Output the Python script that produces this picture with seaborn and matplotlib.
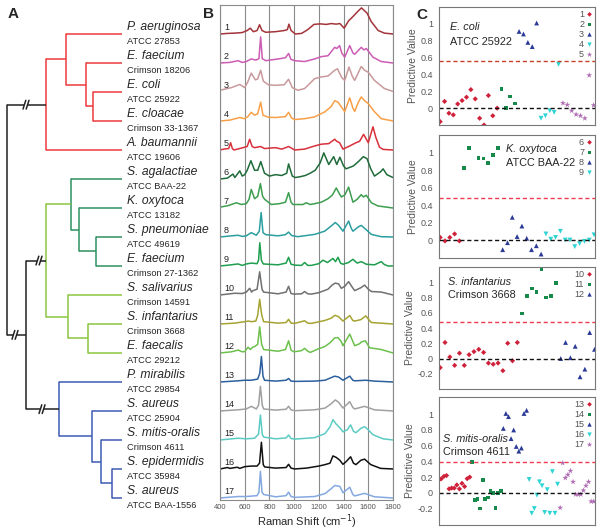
import numpy as np
import pandas as pd
import seaborn as sns
import matplotlib.pyplot as plt

sns.set_style("white")
plt.rcParams['font.family'] = ['Liberation Sans', 'DejaVu Sans']

# ---- panel A: leaves and tree ----
species = ["P. aeruginosa", "E. faecium", "E. coli", "E. cloacae", "A. baumannii",
           "S. agalactiae", "K. oxytoca", "S. pneumoniae", "E. faecium", "S. salivarius",
           "S. infantarius", "E. faecalis", "P. mirabilis", "S. aureus", "S. mitis-oralis",
           "S. epidermidis", "S. aureus"]
strains = ["ATCC 27853", "Crimson 18206", "ATCC 25922", "Crimson 33-1367", "ATCC 19606",
           "ATCC BAA-22", "ATCC 13182", "ATCC 49619", "Crimson 27-1362", "Crimson 14591",
           "Crimson 3668", "ATCC 29212", "ATCC 29854", "ATCC 25904", "Crimson 4611",
           "ATCC 35984", "ATCC BAA-1556"]

RED, LG, DG, BLUE, BLK = "#ee3a3e", "#8cc63f", "#2e9160", "#3d5cb4", "#222222"

# node depth (px from left), colour, children (ints are leaf index), optional break mark x
tree = {"x": 7, "c": BLK, "kids": [
    {"x": 46, "c": RED, "brk": 26, "kids": [
        {"x": 66, "c": RED, "kids": [0, {"x": 86, "c": RED, "kids": [1, {"x": 93, "c": RED, "kids": [2, 3]}]}]},
        4]},
    {"x": 26, "c": BLK, "brk": 15, "kids": [
        {"x": 46, "c": LG, "brk": 39, "kids": [
            {"x": 71, "c": DG, "kids": [5, {"x": 79, "c": DG, "kids": [6, {"x": 96, "c": DG, "kids": [7, 8]}]}]},
            {"x": 68, "c": LG, "kids": [9, {"x": 88, "c": LG, "kids": [10, 11]}]}]},
        {"x": 59, "c": BLUE, "brk": 42, "kids": [
            12, {"x": 92, "c": BLUE, "kids": [13, {"x": 101, "c": BLUE, "kids": [14, {"x": 112, "c": BLUE, "kids": [15, 16]}]}]}]}]}]}
leaf_end = 122

# ---- panel B: Raman spectra, (shift, height above baseline) ----
sp1 = [(400, 0), (460, .02), (520, .03), (580, .05), (620, .12), (645, .2), (670, .08), (700, .12), (720, .32),
       (740, .12), (770, .06), (850, .08), (920, .12), (945, .15), (958, .34), (975, .12), (1010, 0), (1060, .02),
       (1110, .15), (1160, .33), (1210, .35), (1260, .33), (1300, .36), (1340, .34), (1370, .36), (1405, .2),
       (1440, .45), (1480, .62), (1520, .8), (1545, .9), (1570, .8), (1590, .72), (1625, .42), (1680, .12),
       (1730, .03), (1800, 0)]
sp2 = [(400, 0), (480, .02), (546, .08), (580, .02), (613, .05), (653, .14), (690, .1), (715, .15), (729, .9),
       (742, .15), (770, .08), (870, .14), (930, .18), (955, .33), (975, .12), (1004, .08), (1085, .05),
       (1166, .14), (1220, .22), (1274, .25), (1328, .54), (1345, .5), (1368, .6), (1385, .35), (1409, .2),
       (1450, .6), (1475, .35), (1490, .3), (1543, .54), (1565, .45), (1584, .5), (1638, .2), (1705, .05), (1800, 0)]
sp3 = [(400, .06), (492, .15), (560, .26), (600, .15), (625, .35), (653, .65), (686, .42), (705, .45), (729, .75),
       (750, .38), (790, .25), (843, .23), (920, .25), (955, .44), (985, .15), (1031, .06), (1085, .12),
       (1166, .46), (1220, .52), (1274, .55), (1328, .75), (1350, .8), (1385, .5), (1409, .4), (1444, .86),
       (1470, .55), (1490, .4), (1543, .88), (1570, .75), (1600, .68), (1650, .4), (1730, .12), (1800, .02)]
sp4 = [(400, 0), (480, .03), (560, .12), (600, .08), (625, .15), (653, .3), (680, .2), (705, .25), (729, .65),
       (748, .2), (790, .13), (850, .12), (930, .15), (955, .3), (980, .1), (1004, .05), (1085, .08), (1166, .14),
       (1250, .32), (1300, .5), (1328, .7), (1355, .65), (1380, .5), (1409, .32), (1450, .8), (1475, .45),
       (1490, .33), (1520, .65), (1543, .83), (1570, .7), (1600, .6), (1650, .32), (1705, .08), (1800, 0)]
sp5 = [(400, 0), (430, .03), (470, .05), (486, .25), (500, .05), (513, 0), (586, .08), (620, .12), (640, .37),
       (660, .12), (680, .08), (729, .12), (760, .05), (850, .08), (900, .03), (955, .12), (1004, 0), (1085, .03),
       (1166, .14), (1220, .2), (1280, .22), (1328, .37), (1345, .3), (1368, .25), (1395, .03), (1450, .14),
       (1500, .25), (1530, .3), (1562, .54), (1600, .25), (1638, .8), (1660, .45), (1690, .1), (1720, .02), (1800, 0)]
sp6 = [(400, 0), (460, .03), (505, .17), (520, .05), (560, .28), (580, .1), (600, .15), (620, .3), (650, .63),
       (680, .3), (705, .3), (730, .6), (760, .2), (800, .1), (850, .15), (900, .12), (940, .2), (955, .52),
       (985, .1), (1010, .05), (1050, .08), (1090, .12), (1130, .2), (1170, .3), (1210, .55), (1240, .9),
       (1280, .5), (1320, .77), (1345, .5), (1370, .75), (1400, .45), (1420, .35), (1450, .4), (1480, .45),
       (1520, .6), (1560, .77), (1590, .7), (1620, .35), (1650, .1), (1700, .25), (1720, .35), (1750, .15), (1800, .05)]
sp7 = [(400, .03), (465, .08), (532, .18), (573, .12), (613, .15), (635, .3), (653, .64), (680, .32), (705, .4),
       (727, .84), (745, .4), (761, .3), (815, .12), (883, .15), (930, .2), (955, .53), (975, .2), (990, .12),
       (1071, .12), (1098, .18), (1130, .12), (1166, .15), (1220, .2), (1274, .32), (1310, .45), (1341, .69),
       (1365, .5), (1382, .38), (1410, .45), (1441, .72), (1462, .4), (1476, .2), (1510, .3), (1543, .46),
       (1560, .38), (1584, .44), (1625, .18), (1678, .07), (1800, 0)]
sp8 = [(400, 0), (470, .03), (546, .06), (580, .02), (613, .04), (653, .15), (694, .06), (718, .2), (733, .84),
       (748, .15), (770, .08), (870, .04), (930, .08), (955, .17), (980, .05), (1030, .01), (1166, .09),
       (1247, .2), (1300, .38), (1333, .5), (1360, .4), (1395, .2), (1441, .55), (1462, .3), (1476, .2),
       (1520, .35), (1543, .4), (1570, .3), (1625, .09), (1705, .01), (1800, 0)]
sp9 = [(400, 0), (470, .03), (546, .07), (580, .02), (613, .07), (653, .1), (700, .08), (712, .2), (722, .8),
       (735, .2), (750, .07), (870, .04), (935, .1), (955, .3), (975, .06), (1004, .03), (1060, .02), (1085, .12),
       (1110, .02), (1139, .02), (1200, .08), (1233, .2), (1270, .12), (1314, .26), (1335, .15), (1355, .3),
       (1375, .1), (1395, .06), (1440, .12), (1476, .23), (1510, .1), (1543, .15), (1584, .06), (1650, .04),
       (1705, .15), (1730, .05), (1760, 0), (1800, 0)]
sp10 = [(400, 0), (519, .06), (580, .05), (613, .1), (640, .23), (655, .1), (667, .15), (700, .2), (721, .8),
        (740, .2), (753, .1), (870, .04), (935, .1), (955, .3), (975, .05), (998, .03), (1060, .04), (1085, .12),
        (1110, .04), (1139, .03), (1200, .08), (1274, .2), (1310, .35), (1333, .41), (1360, .38), (1382, .23),
        (1410, .3), (1441, .46), (1465, .3), (1490, .15), (1540, .25), (1570, .34), (1600, .2), (1625, .12),
        (1705, .1), (1800, 0)]
sp11 = [(400, 0), (520, .03), (600, .08), (630, .1), (653, .08), (690, .1), (705, .3), (721, .85), (738, .3),
        (753, .08), (870, .03), (935, .05), (955, .16), (975, .03), (1004, .02), (1085, .11), (1110, .03),
        (1139, .02), (1247, .12), (1300, .2), (1330, .3), (1360, .25), (1395, .1), (1450, .29), (1475, .12),
        (1490, .1), (1540, .15), (1580, .28), (1610, .12), (1625, .05), (1800, 0)]
sp12 = [(400, 0), (492, .04), (546, .1), (580, .04), (600, .05), (627, .2), (645, .12), (665, .2), (680, .22),
        (705, .3), (721, .9), (737, .3), (753, .12), (870, .06), (930, .12), (955, .42), (975, .1), (998, .04),
        (1060, .08), (1085, .16), (1110, .06), (1131, .02), (1200, .15), (1247, .22), (1290, .35), (1328, .52),
        (1355, .53), (1380, .4), (1395, .25), (1450, .65), (1475, .4), (1490, .25), (1530, .32), (1543, .38),
        (1576, .42), (1611, .18), (1705, .12), (1800, 0)]
sp13 = [(400, 0), (546, .04), (600, .06), (653, .06), (705, .1), (722, .3), (735, .88), (748, .2), (760, .06),
        (850, .03), (935, .06), (955, .12), (975, .03), (1004, .02), (1166, .03), (1250, .06), (1300, .15),
        (1328, .2), (1360, .17), (1395, .06), (1450, .2), (1475, .06), (1490, .04), (1580, .06), (1650, .03), (1800, 0)]
sp14 = [(400, 0), (546, .04), (613, .07), (653, .16), (694, .07), (712, .2), (727, .85), (742, .2), (753, .07),
        (850, .03), (935, .06), (955, .16), (975, .04), (1004, .01), (1166, .04), (1250, .1), (1300, .25),
        (1333, .38), (1360, .3), (1395, .1), (1450, .32), (1475, .12), (1490, .07), (1570, .16), (1650, .04), (1800, 0)]
sp15 = [(400, 0), (546, .06), (613, .04), (680, .06), (712, .2), (727, .86), (742, .2), (753, .1), (850, .04),
        (935, .07), (955, .17), (975, .05), (1004, .03), (1166, .08), (1250, .22), (1290, .45), (1314, .7),
        (1340, .55), (1370, .42), (1395, .28), (1430, .35), (1457, .52), (1480, .3), (1500, .25), (1540, .4),
        (1570, .46), (1600, .35), (1638, .18), (1720, .04), (1800, 0)]
sp16 = [(400, 0), (460, .05), (480, .02), (540, .06), (560, .02), (600, .08), (653, .1), (700, .1), (720, .2),
        (735, .92), (750, .15), (761, .07), (850, .03), (935, .05), (955, .16), (975, .03), (1004, 0), (1100, .03),
        (1200, .1), (1250, .15), (1290, .2), (1314, .45), (1340, .4), (1370, .3), (1395, .16), (1420, .25),
        (1457, .42), (1480, .2), (1500, .15), (1540, .3), (1570, .34), (1620, .15), (1700, .02), (1800, 0)]
sp17 = [(400, 0), (546, .05), (613, .05), (700, .08), (715, .2), (727, .92), (740, .2), (753, .12), (850, .04),
        (935, .08), (955, .2), (975, .05), (1004, .02), (1166, .05), (1250, .15), (1300, .32), (1328, .43),
        (1370, .4), (1395, .18), (1450, .37), (1475, .12), (1490, .07), (1570, .16), (1650, .04), (1800, 0)]
spectra = [sp1, sp2, sp3, sp4, sp5, sp6, sp7, sp8, sp9, sp10, sp11, sp12, sp13, sp14, sp15, sp16, sp17]
spec_colors = ["#a3343a", "#cc5cb4", "#c9999b", "#f7a048", "#d9303c", "#1f6b3a", "#3d9e4f", "#2c9ea0",
               "#1e9e4e", "#707070", "#a5a332", "#6cc04c", "#2c5f9e", "#a0a0a0", "#5ccbc4", "#111111", "#84a8e0"]

# ---- panel C: predictive values, one list per class ----
c1_labels = ["1", "2", "3", "4", "5"]
c1_vals = [[-0.16, 0.08, -0.06, -0.08, 0.05, 0.09, 0.13, 0.22, 0.11, -0.12, -0.2, 0.15, -0.09, 0.0],
           [0.225, 0.0, 0.14, 0.055],
           [0.91, 0.88, 0.78, 0.73, 1.01],
           [-0.12, -0.09, -0.03, -0.05, 0.52],
           [0.06, 0.04, -0.03, -0.075, -0.09, -0.12, 0.39, 0.035]]
c2_labels = ["6", "7", "8", "9"]
c2_vals = [[0.03, -0.01, 0.03, 0.07, -0.01],
           [0.82, 1.05, np.nan, 0.94, 0.93, 0.88, 0.97, 1.05],
           [-0.11, -0.03, 0.26, 0.04, 0.16, 0.02, -0.11, -0.065, -0.16],
           [0.07, 0.01, 0.03, 0.1, 0.0, 0.0, -0.075, -0.04, -0.015, 0.0, 0.06]]
c3_labels = ["10", "11", "12"]
c3_vals = [[-0.12, 0.21, 0.02, -0.09, 0.07, -0.09, 0.05, 0.09, 0.12, 0.08, -0.06, -0.075, -0.06, -0.16, 0.2, -0.03, 0.21],
           [0.59, 0.82, 0.92, 0.87, 1.17, 0.8, 0.82, 0.99],
           [0.0, 0.21, 0.01, 0.16, -0.24, -0.14, 0.34, 0.12]]
c4_labels = ["13", "14", "15", "16", "17"]
c4_vals = [[0.16, 0.18, 0.21, 0.22, 0.05, 0.06, 0.06, 0.10, 0.05, 0.12, 0.08, 0.18, 0.20],
           [0.39, -0.09, -0.08, -0.20, 0.16, -0.08, -0.06, 0.02, 0.00, -0.19, 0.00, 0.02],
           [0.82, 1.01, 0.97, 0.69, 0.80, 0.59, 0.53, 0.57, 1.01, 1.05],
           [0.17, -0.26, -0.20, -0.03, 0.14, 0.09, -0.25, 0.04, -0.26, 0.27, -0.26, 0.11],
           [-0.19, 0.38, 0.19, 0.23, 0.28, 0.14, -0.02, -0.02, -0.02, 0.03, 0.09, 0.14, -0.11, -0.11]]
thresholds = [0.56, 0.48, 0.48, 0.39]
titles = [("E. coli", "ATCC 25922"), ("K. oxytoca", "ATCC BAA-22"),
          ("S. infantarius", "Crimson 3668"), ("S. mitis-oralis", "Crimson 4611")]

fig = plt.figure(figsize=(6.02, 5.31), dpi=100)
W, H = 602, 531
bot, hgt = (H - 500) / H, 495 / H
YLIM = (-0.07, 17.0)

# ---------------- A ----------------
axA = fig.add_axes([0, bot, 125 / W, hgt])
axA.set_xlim(0, 125)
axA.set_ylim(*YLIM)
axA.axis("off")
LW = 1.1


def stem(ax, x0, x1, y, color, brk=None):
    if brk is None:
        ax.plot([x0, x1], [y, y], color=color, lw=LW, solid_capstyle="butt")
        return
    g = 1.6
    ax.plot([x0, brk - g], [y, y], color=color, lw=LW, solid_capstyle="butt")
    ax.plot([brk + g, x1], [y, y], color=color, lw=LW, solid_capstyle="butt")
    for bx in (brk - g, brk + g):
        ax.plot([bx - 1.4, bx + 1.4], [y - 0.15, y + 0.15], color=color, lw=LW)


def draw(node, px=None, pcolor=None):
    if isinstance(node, int):
        y = 16 - node
        axA.plot([px, leaf_end], [y, y], color=pcolor, lw=LW, solid_capstyle="butt")
        return y
    ys = [draw(k, node["x"], node["c"]) for k in node["kids"]]
    axA.plot([node["x"]] * 2, [min(ys), max(ys)], color=node["c"], lw=LW)
    y = (ys[0] + ys[-1]) / 2
    if px is not None:
        stem(axA, px, node["x"], y, pcolor, node.get("brk"))
    return y


draw(tree)
for i, (sp, st) in enumerate(zip(species, strains)):
    y = 16 - i
    axA.text(127, y + 0.05, sp, fontsize=8.7, style="italic", va="bottom", ha="left")
    axA.text(127, y - 0.1, st, fontsize=6.7, va="top", ha="left")

# ---------------- B ----------------
axB = fig.add_axes([220 / W, bot, 173 / W, hgt])
for k, (sp, col) in enumerate(zip(spectra, spec_colors)):
    xs = np.array([p[0] for p in sp], float)
    ys = np.array([p[1] for p in sp], float) + 16 - k
    sns.lineplot(x=xs, y=ys, color=col, lw=1.1, ax=axB, estimator=None, sort=False)
    axB.text(432, 16 - k + 0.07, str(k + 1), fontsize=6.5, va="bottom", ha="left", color="#222")
axB.set_xlim(400, 1800)
axB.set_ylim(*YLIM)
axB.set_xticks(range(400, 1801, 200))
axB.set_yticks([])
axB.grid(axis="x", color="#8a8a8a", lw=0.8)
axB.tick_params(axis="x", length=0, pad=3, labelsize=5.5, labelcolor="#555")
axB.set_xlabel("Raman Shift (cm$^{-1}$)", fontsize=8, labelpad=1)
for s in axB.spines.values():
    s.set_color("#8a8a8a")
    s.set_linewidth(0.8)

# ---------------- C ----------------
markers = ["D", "s", "^", "v", "*"]
mcolors = ["#d0213a", "#17894a", "#2b3a96", "#2ed3d3", "#b06fb4"]
msizes = [7, 7, 12, 12, 20]
boxes = [(7, 125), (135, 258), (267, 389), (397, 525)]
ylims = [(-0.2, 1.2), (-0.205, 1.2), (-0.4, 1.2), (-0.41, 1.22)]
xlims = [(-0.38, 35.2), (-0.35, 32.1), (-0.35, 32.0), (-0.1, 60.3)]
tticks = [[0, 0.2, 0.4, 0.6, 0.8, 1], [0, 0.2, 0.4, 0.6, 0.8, 1],
          [-0.2, 0, 0.2, 0.4, 0.6, 0.8, 1], [-0.2, 0, 0.2, 0.4, 0.6, 0.8, 1]]
tpos = [(0.075, 0.83, 0.70), (0.434, 0.884, 0.775), (0.058, 0.875, 0.769), (0.028, 0.668, 0.571)]
red_lines = ["#c8402a", "#f03c50", "#f03c50", "#f03c50"]
allvals = [c1_vals, c2_vals, c3_vals, c4_vals]
alllabels = [c1_labels, c2_labels, c3_labels, c4_labels]

for j in range(4):
    top, bottom = boxes[j]
    ax = fig.add_axes([438.5 / W, (H - bottom) / H, 156 / W, (bottom - top) / H])
    start = 0
    for m, (vals, lab) in enumerate(zip(allvals[j], alllabels[j])):
        idx = np.arange(start, start + len(vals))
        start += len(vals)
        df = pd.DataFrame({"i": idx, "v": vals}).dropna()
        sns.scatterplot(data=df, x="i", y="v", marker=markers[m], color=mcolors[m], s=msizes[m],
                        edgecolor="none", label=lab, ax=ax)
    ax.axhline(thresholds[j], color=red_lines[j], ls="--", lw=1.0, dashes=(3, 2), zorder=1)
    ax.axhline(0, color="#111", ls="--", lw=1.0, dashes=(3, 2), zorder=1)
    ax.set_xlim(*xlims[j])
    ax.set_ylim(*ylims[j])
    ax.set_xticks([])
    ax.set_yticks(tticks[j])
    ax.set_yticklabels([("%g" % t) for t in tticks[j]])
    ax.tick_params(axis="y", length=2, width=0.6, pad=2, labelsize=6.5, labelcolor="#555", color="#777")
    ax.set_xlabel("")
    ax.set_ylabel("Predictive Value", fontsize=7.5, color="#555", labelpad=2)
    for s in ax.spines.values():
        s.set_color("#777")
        s.set_linewidth(0.8)
    ax.legend(loc="upper right", markerfirst=False, frameon=False, fontsize=6.5, markerscale=0.9,
              handlelength=0.5, handletextpad=0.35, labelspacing=0.12, borderaxespad=0.1,
              borderpad=0.2, labelcolor="#555")
    tx, ty1, ty2 = tpos[j]
    ax.text(tx, ty1, titles[j][0], transform=ax.transAxes, fontsize=7.8, style="italic", va="center")
    ax.text(tx, ty2, titles[j][1], transform=ax.transAxes, fontsize=7.8, va="center")

fig.text(13 / W, 1 - 14 / H, "A", fontsize=11, fontweight="bold", ha="center", va="center")
fig.text(208 / W, 1 - 14 / H, "B", fontsize=11, fontweight="bold", ha="center", va="center")
fig.text(422 / W, 1 - 15 / H, "C", fontsize=11, fontweight="bold", ha="center", va="center")

fig.savefig("out.png", dpi=100)
